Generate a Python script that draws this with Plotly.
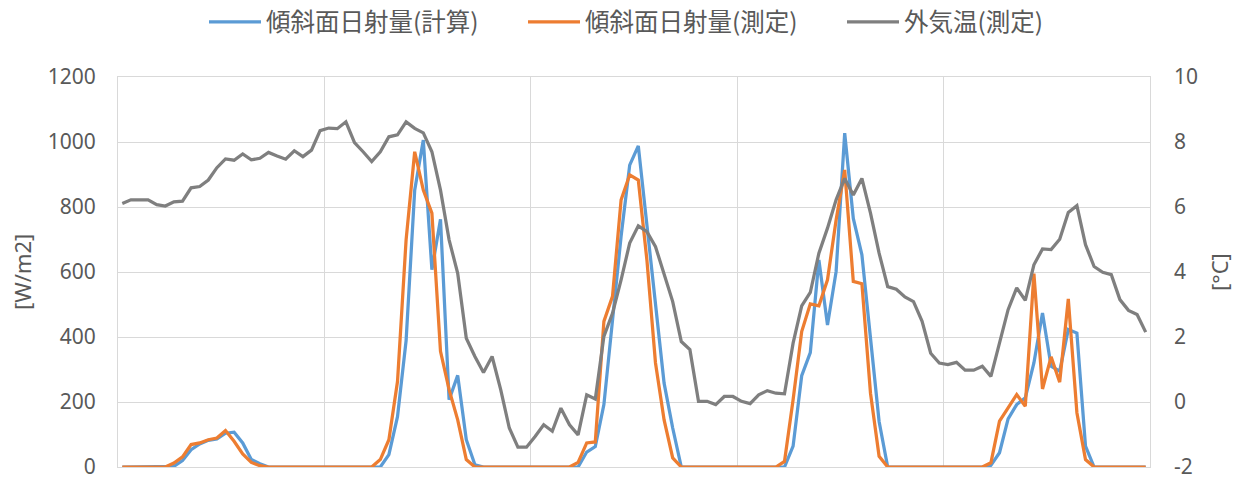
import plotly.graph_objects as go

hours = list(range(120))

radiation_calc = [
    0, 0, 0, 0, 0, 0, 2, 20, 53, 71, 82, 86, 104, 107, 74, 23, 10, 0, 0, 0,
    0, 0, 0, 0, 0, 0, 0, 0, 0, 0, 0, 38, 155, 389, 852, 1006, 607, 762, 207, 282,
    84, 7, 0, 0, 0, 0, 0, 0, 0, 0, 0, 0, 0, 0, 46, 63, 192, 450, 710, 929,
    988, 745, 495, 258, 120, 0, 0, 0, 0, 0, 0, 0, 0, 0, 0, 0, 0, 0, 64, 281,
    352, 637, 437, 601, 1027, 765, 653, 397, 140, 0, 0, 0, 0, 0, 0, 0, 0, 0, 0, 0,
    0, 5, 44, 148, 192, 213, 320, 474, 310, 295, 423, 412, 64, 0, 0, 0, 0, 0, 0, 0,
]

radiation_meas = [
    0, 0, 0, 0, 0, 0, 12, 31, 69, 74, 84, 89, 112, 79, 40, 14, 4, 0, 0, 0,
    0, 0, 0, 0, 0, 0, 0, 0, 0, 0, 23, 84, 263, 699, 970, 852, 781, 356, 238, 145,
    23, 0, 0, 0, 0, 0, 0, 0, 0, 0, 0, 0, 0, 14, 74, 77, 448, 525, 822, 899,
    883, 637, 320, 145, 28, 0, 0, 0, 0, 0, 0, 0, 0, 0, 0, 0, 0, 17, 207, 417,
    502, 496, 576, 760, 914, 571, 564, 227, 33, 0, 0, 0, 0, 0, 0, 0, 0, 0, 0, 0,
    0, 13, 141, 182, 223, 187, 595, 240, 339, 261, 517, 167, 23, 0, 0, 0, 0, 0, 0, 0,
]

temperature = [
    6.11, 6.22, 6.22, 6.22, 6.07, 6.03, 6.16, 6.18, 6.59, 6.63,
    6.83, 7.21, 7.48, 7.44, 7.63, 7.45, 7.50, 7.68, 7.57, 7.47,
    7.73, 7.55, 7.75, 8.35, 8.43, 8.41, 8.62, 7.98, 7.70, 7.40,
    7.70, 8.16, 8.22, 8.62, 8.42, 8.28, 7.70, 6.52, 4.99, 3.96,
    1.96, 1.40, 0.91, 1.40, 0.38, -0.80, -1.39, -1.39, -1.06, -0.70,
    -0.90, -0.19, -0.70, -1.01, 0.22, 0.09, 2.02, 2.73, 3.76, 4.89,
    5.42, 5.24, 4.78, 3.96, 3.09, 1.86, 1.61, 0.02, 0.02, -0.08,
    0.17, 0.17, 0.02, -0.05, 0.22, 0.35, 0.27, 0.25, 1.81, 2.96,
    3.37, 4.58, 5.35, 6.22, 6.88, 6.37, 6.88, 5.81, 4.58, 3.55,
    3.47, 3.23, 3.09, 2.48, 1.50, 1.20, 1.15, 1.22, 0.98, 0.98,
    1.10, 0.79, 1.82, 2.84, 3.51, 3.13, 4.22, 4.71, 4.69, 5.01,
    5.83, 6.04, 4.84, 4.17, 3.99, 3.92, 3.15, 2.82, 2.69, 2.15,
]

names = ["傾斜面日射量(計算)", "傾斜面日射量(測定)", "外気温(測定)"]
colors = ["#5B9BD5", "#ED7D31", "#7F7F7F"]
left_ticks = [0, 200, 400, 600, 800, 1000, 1200]
right_ticks = [-2, 0, 2, 4, 6, 8, 10]
right_labels = ["-2", "0", "2", "4", "6", "8", "10"]
day_bounds = [-0.5, 23.5, 47.5, 71.5, 95.5, 119.5]

GRID = "#D9D9D9"
TXT = "#595959"
tick_font = dict(family="Noto Sans, Open Sans, sans-serif", size=21, color=TXT)

W, H = 1237, 478
ML, MR, MT, MB = 118, 87, 77, 11
PW = W - ML - MR
PH = H - MT - MB


def px_x(x):
    return (x - ML) / PW


def px_y(y):
    return (H - MB - y) / PH


fig = go.Figure()
fig.add_trace(go.Scatter(x=hours, y=radiation_calc, name=names[0], mode="lines",
                         line=dict(color=colors[0], width=3.25)))
fig.add_trace(go.Scatter(x=hours, y=radiation_meas, name=names[1], mode="lines",
                         line=dict(color=colors[1], width=3.25)))
fig.add_trace(go.Scatter(x=hours, y=temperature, name=names[2], mode="lines",
                         line=dict(color=colors[2], width=3.25), yaxis="y2"))

fig.update_layout(
    width=W, height=H,
    margin=dict(l=ML, r=MR, t=MT, b=MB, pad=0, autoexpand=False),
    paper_bgcolor="white", plot_bgcolor="white",
    hovermode=False,
    showlegend=True,
    legend=dict(orientation="h", x=px_x(204), xanchor="left", y=px_y(22), yanchor="middle",
                font=dict(family="Noto Sans CJK JP", size=24.5, color=TXT),
                itemwidth=52, entrywidth=252, entrywidthmode="pixels",
                bgcolor="rgba(0,0,0,0)"),
    xaxis=dict(range=[-0.5, 119.5], tickmode="array", tickvals=day_bounds,
               showticklabels=False, ticks="", showgrid=True, gridcolor=GRID, gridwidth=1,
               showline=True, linecolor=GRID, linewidth=1, mirror=True, zeroline=False),
    yaxis=dict(range=[0, 1200], tickmode="array", tickvals=left_ticks,
               showgrid=True, gridcolor=GRID, gridwidth=1, zeroline=False,
               tickfont=tick_font, ticks="", ticklabelstandoff=17,
               ticklabeloverflow="allow",
               showline=True, linecolor=GRID, linewidth=1, mirror=True),
    yaxis2=dict(range=[-2, 10], tickmode="array", tickvals=right_ticks, ticktext=right_labels,
                overlaying="y", side="right", showgrid=False, zeroline=False,
                tickfont=tick_font, ticks="", ticklabelstandoff=23,
                ticklabeloverflow="allow"),
    annotations=[
        dict(text="[W/m2]", xref="paper", yref="paper", x=px_x(22), y=px_y(272),
             xanchor="center", yanchor="middle", textangle=-90, showarrow=False,
             font=dict(family="Noto Sans, sans-serif", size=22, color=TXT)),
        dict(text="[°C]", xref="paper", yref="paper", x=px_x(1219), y=px_y(272),
             xanchor="center", yanchor="middle", textangle=-90, showarrow=False,
             font=dict(family="Noto Sans, sans-serif", size=22, color=TXT)),
    ],
)

fig.write_html("out.html",
               config={"displayModeBar": False},
               post_script="document.body.style.margin='0px';document.body.style.overflow='hidden';")
